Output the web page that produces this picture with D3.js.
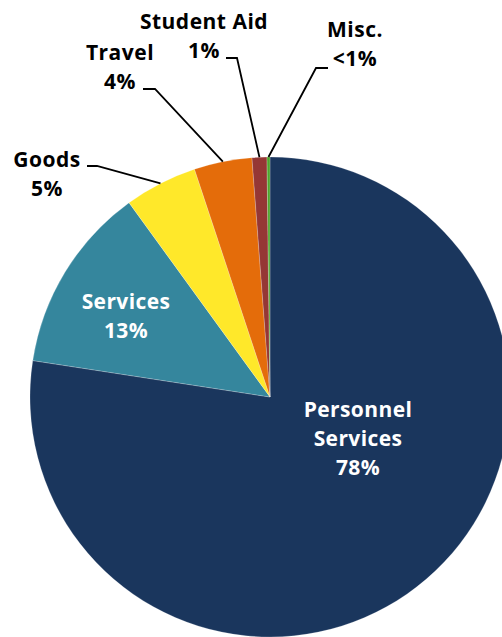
<!DOCTYPE html>
<html>
<head>
<meta charset="utf-8">
<script src="https://cdn.jsdelivr.net/npm/d3@7"></script>
<style>
    html, body { margin: 0; padding: 0; background: #ffffff; overflow: hidden; }
    svg { display: block; }
    .lbl { font-family: "Open Sans", "DejaVu Sans", sans-serif; font-weight: 700; font-size: 21px; }
</style>
</head>
<body>
<svg id="chart"></svg>
<script>
    // slice order follows the original, clockwise from 12 o'clock
    var categories = ['Personnel Services', 'Services', 'Goods', 'Travel', 'Student Aid', 'Misc.'];
    var shares = [77.5, 12.6, 4.9, 3.9, 1.0, 0.2];
    var percentLabels = ['78%', '13%', '5%', '4%', '1%', '<1%'];
    var nameLines = [['Personnel', 'Services'], ['Services'], ['Goods'], ['Travel'], ['Student Aid'], ['Misc.']];
    var colors = ['#1a365d', '#35869d', '#ffe82a', '#e46c0a', '#953735', '#4ea72e'];

    var width = 502, height = 637;
    var cx = 270, cy = 397, radius = 240;
    var lineHeight = 29;

    // label placement: inside = centred in slice, otherwise text block + elbow of the leader
    var labelLayout = [
        { inside: true, x: 358, y: 417 },
        { inside: true, x: 126, y: 309 },
        { inside: false, x: 47, y: 167, elbowX: 87, elbowY: 166, bendX: 97 },
        { inside: false, x: 120, y: 60, elbowX: 143, elbowY: 89, bendX: 155 },
        { inside: false, x: 204, y: 29, elbowX: 226, elbowY: 58, bendX: 237 },
        { inside: false, x: 355, y: 37, elbowX: 328, elbowY: 68, bendX: 316 }
    ];

    var svg = d3.select('#chart')
        .attr('width', width)
        .attr('height', height);

    var pie = d3.pie().sort(null).value(function(d) { return d; });
    var arcs = pie(shares);

    var arc = d3.arc().innerRadius(0).outerRadius(radius);

    var g = svg.append('g').attr('transform', 'translate(' + cx + ',' + cy + ')');

    g.selectAll('path.slice')
        .data(arcs)
        .enter().append('path')
        .attr('class', 'slice')
        .attr('d', arc)
        .attr('fill', function(d, i) { return colors[i]; })
        .attr('stroke', '#ffffff')
        .attr('stroke-opacity', 0.35)
        .attr('stroke-width', 0.6);

    // leader lines for the small slices
    var leaders = svg.append('g').attr('class', 'leaders');
    arcs.forEach(function(d, i) {
        var lay = labelLayout[i];
        if (lay.inside) {
            return;
        }
        var mid = (d.startAngle + d.endAngle) / 2;
        var px = cx + radius * Math.sin(mid);
        var py = cy - radius * Math.cos(mid);
        leaders.append('polyline')
            .attr('points', [[lay.elbowX, lay.elbowY], [lay.bendX, lay.elbowY], [px, py]].join(' '))
            .attr('fill', 'none')
            .attr('stroke', '#000000')
            .attr('stroke-width', 1.8);
    });

    // text labels
    var labels = svg.append('g').attr('class', 'labels');
    categories.forEach(function(name, i) {
        var lay = labelLayout[i];
        var lines = nameLines[i].concat([percentLabels[i]]);
        var t = labels.append('text')
            .attr('class', 'lbl')
            .attr('text-anchor', 'middle')
            .attr('fill', lay.inside ? '#ffffff' : '#000000')
            .attr('letter-spacing', lay.inside ? '0.4px' : '0.5px');
        lines.forEach(function(s, k) {
            t.append('tspan')
                .attr('x', lay.x)
                .attr('y', lay.y + k * lineHeight)
                .text(s);
        });
    });
</script>
</body>
</html>
